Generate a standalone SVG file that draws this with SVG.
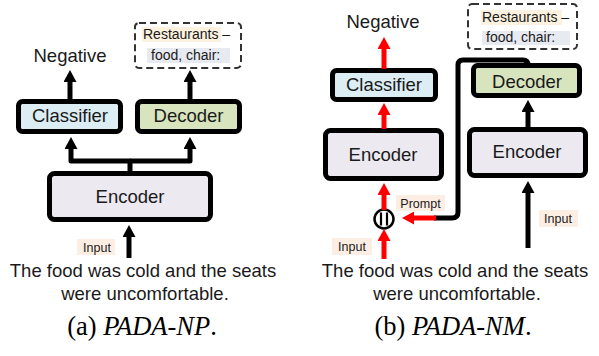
<svg xmlns="http://www.w3.org/2000/svg" width="599" height="356" viewBox="0 0 599 356">
<defs>
<style>
text{font-family:"Liberation Sans",Arial,sans-serif;fill:#1a1a1a}
.t{font-size:18.5px}
.c{text-anchor:middle}
.s{font-size:14px}
.l{font-size:12.5px}
.cap{font-family:"Liberation Serif","Times New Roman",serif;font-size:26.5px;text-anchor:middle;fill:#000}
.box{stroke:#000;stroke-width:5}
.cls{fill:#dcedf4}
.dec{fill:#d8e4bd}
.enc{fill:#ece9f1}
.dash{fill:none;stroke:#333;stroke-width:2;stroke-dasharray:7 4}
.ln{fill:none;stroke:#000;stroke-width:5;stroke-linejoin:round}
.rd{fill:none;stroke:#ff0000;stroke-width:5}
.inb{fill:#fdeee4}
.rb{fill:#fdf2df}
.fb{fill:#e8eaf2}
</style>
<marker id="ab" viewBox="0 0 12 13" markerWidth="12" markerHeight="13" refX="0" refY="6.5" orient="auto" markerUnits="userSpaceOnUse"><path d="M0,0 L12,6.5 L0,13 z" fill="#000"/></marker>
<marker id="ar" viewBox="0 0 12 13" markerWidth="12" markerHeight="13" refX="0" refY="6.5" orient="auto" markerUnits="userSpaceOnUse"><path d="M0,0 L12,6.5 L0,13 z" fill="#ff0000"/></marker>
</defs>

<!-- Panel (a) -->
<g id="a-negative"><text class="t c" x="70" y="62">Negative</text></g>
<g id="a-output">
<rect class="dash" x="135" y="23" width="106" height="45" rx="4"/>
<rect class="rb" x="142" y="27" width="79" height="15"/>
<text class="s" x="143" y="39">Restaurants –</text>
<rect class="fb" x="147" y="48" width="83" height="15"/>
<text class="s" x="151" y="60">food, chair:</text>
</g>
<g id="a-classifier"><rect class="box cls" x="18.5" y="101.5" width="102" height="30" rx="4"/><text class="t c" x="70" y="122">Classifier</text></g>
<g id="a-decoder"><rect class="box dec" x="137.5" y="101.5" width="102" height="30" rx="4"/><text class="t c" x="188.5" y="122">Decoder</text></g>
<g id="a-encoder"><rect class="box enc" x="49.5" y="173.5" width="161" height="46" rx="5"/><text class="t c" x="130" y="203">Encoder</text></g>
<g id="a-input"><rect class="inb" x="77" y="239" width="38" height="16"/><text class="l c" x="97" y="252">Input</text></g>
<g id="a-sentence">
<text class="t c" x="143" y="277">The food was cold and the seats</text>
<text class="t c" x="145" y="300">were uncomfortable.</text>
</g>
<g id="a-caption"><text class="cap" x="142" y="335">(a) <tspan font-style="italic">PADA-NP</tspan>.</text></g>

<!-- Panel (b) -->
<g id="b-negative"><text class="t c" x="383" y="28">Negative</text></g>
<g id="b-output">
<rect class="dash" x="468" y="4" width="109" height="45" rx="4"/>
<rect class="rb" x="481" y="10" width="81" height="15"/>
<text class="s" x="482" y="22">Restaurants –</text>
<rect class="fb" x="482" y="31" width="88" height="14"/>
<text class="s" x="486" y="42">food, chair:</text>
</g>
<g id="b-classifier"><rect class="box cls" x="332.5" y="70.5" width="103" height="29" rx="4"/><text class="t c" x="384" y="91">Classifier</text></g>
<g id="b-encoder1"><rect class="box enc" x="325.5" y="130.5" width="116" height="48" rx="5"/><text class="t c" x="383" y="161">Encoder</text></g>
<g id="b-decoder"><rect class="box dec" x="473.5" y="65.5" width="106" height="30" rx="4"/><text class="t c" x="527" y="88">Decoder</text></g>
<g id="b-encoder2"><rect class="box enc" x="469.5" y="129.5" width="116" height="46" rx="5"/><text class="t c" x="527" y="158">Encoder</text></g>
<g id="b-concat"><circle cx="384" cy="219" r="9.5" fill="#fff" stroke="#000" stroke-width="2.5"/><path d="M381,212.5 V225.5 M387,212.5 V225.5" stroke="#000" stroke-width="2.2"/></g>
<g id="b-prompt-label"><rect class="inb" x="396" y="195" width="49" height="16"/><text class="l c" x="420.5" y="208">Prompt</text></g>
<g id="b-input1"><rect class="inb" x="332" y="238" width="40" height="17"/><text class="l c" x="352" y="251">Input</text></g>
<g id="b-input2"><rect class="inb" x="539" y="210" width="39" height="17"/><text class="l c" x="558" y="223">Input</text></g>
<g id="b-sentence">
<text class="t c" x="455" y="277">The food was cold and the seats</text>
<text class="t c" x="457" y="300">were uncomfortable.</text>
</g>
<g id="b-caption"><text class="cap" x="453" y="335">(b) <tspan font-style="italic">PADA-NM</tspan>.</text></g>

<!-- Connectors -->
<g id="connectors">
<path class="ln" d="M70,100 V82" marker-end="url(#ab)"/>
<path class="ln" d="M190,100 V82" marker-end="url(#ab)"/>
<path class="ln" d="M130,172 V161 H71 V149" marker-end="url(#ab)"/>
<path class="ln" d="M130,161 H190 V149" marker-end="url(#ab)"/>
<path class="ln" d="M129,258 V237" marker-end="url(#ab)"/>
<path class="rd" d="M384,69 V49" marker-end="url(#ar)"/>
<path class="rd" d="M384,129 V115" marker-end="url(#ar)"/>
<path class="rd" d="M384,210 V195" marker-end="url(#ar)"/>
<path class="rd" d="M384,259 V241" marker-end="url(#ar)"/>
<path class="ln" d="M528,66 V65 Q528,60 523,60 H463 Q458,60 458,65 V212 Q458,218 452,218 H434"/>
<path class="rd" d="M436,218 H414" marker-end="url(#ar)"/>
<path class="ln" d="M528,128 V112" marker-end="url(#ab)"/>
<path class="ln" d="M528,248 V193" marker-end="url(#ab)"/>
</g>
</svg>
